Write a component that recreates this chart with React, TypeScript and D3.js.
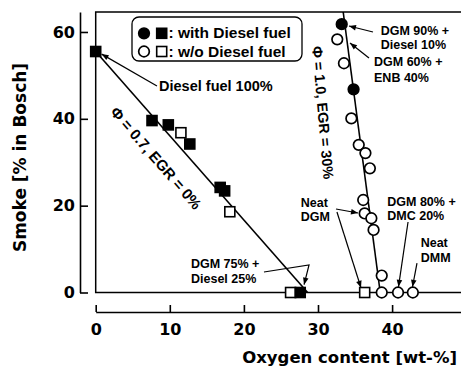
import React, { useRef, useEffect } from "react";
import * as d3 from "d3";

// [oxygen wt-%, smoke % Bosch]
const filledSquares = [[0, 55.5], [7.6, 39.6], [9.8, 38.6], [12.7, 34.2], [16.8, 24.2], [17.4, 23.4], [27.6, 0]];
const openSquares = [[11.5, 36.8], [18.1, 18.6], [26.3, 0], [36.3, 0]];
const filledCircles = [[33.2, 61.8], [34.8, 46.8]];
const openCircles = [
  [32.6, 58.3], [33.5, 52.8], [34.5, 40.1], [35.5, 34.0], [36.4, 32.1], [37.0, 28.6],
  [36.1, 21.3], [36.3, 18.2], [37.2, 17.1], [37.5, 14.4], [38.6, 3.9], [38.6, 0], [40.8, 0], [42.8, 0],
];
const lowPhiLine = [[0, 55.5], [28.6, 0]];
const highPhiLine = [[33.4, 64.6], [38.4, 0]];

const xTicks = [0, 10, 20, 30, 40];
const yTicks = [0, 20, 40, 60];

const annotations = [
  { lines: ["Diesel fuel 100%"], at: [8.55, 46.5], lh: 0, size: 14.5 },
  { lines: ["DGM 90% +", "Diesel 10%"], at: [38.46, 59.4], lh: 14, size: 12.5 },
  { lines: ["DGM 60% +", "ENB 40%"], at: [37.56, 52.05], lh: 16, size: 12.5 },
  { lines: ["Neat", "DGM"], at: [27.67, 19.7], lh: 14, size: 12.5 },
  { lines: ["DGM 80% +", "DMC 20%"], at: [39.35, 20.0], lh: 14, size: 12.5 },
  { lines: ["Neat", "DMM"], at: [43.86, 10.4], lh: 14.5, size: 12.5 },
  { lines: ["DGM 75% +", "Diesel 25%"], at: [12.86, 5.6], lh: 14.5, size: 12.5 },
];

// arrows: polyline points, head at last point
const arrows = [
  [[8.27, 47.56], [0.8, 54.9]],
  [[37.42, 59.99], [34.18, 61.38]],
  [[36.88, 54.0], [34.32, 57.46]],
  [[32.43, 19.23], [35.4, 18.31]],
  [[32.56, 18.54], [35.8, 1.1]],
  [[42.15, 16.24], [40.86, 1.3]],
  [[43.36, 6.79], [42.75, 1.3]],
  [[22.71, 4.72], [28.79, 6.33], [28.12, 1.8]],
];

const labelFont = "'Liberation Sans', Arial, Helvetica, sans-serif";
const axisFont = "'DejaVu Sans', Verdana, sans-serif";

const App = () => {
  const svgRef = useRef(null);

  useEffect(() => {
    const svg = d3.select(svgRef.current);
    svg.selectAll("*").remove();

    const x = d3.scaleLinear().domain([0, 50]).range([95.7, 466.2]);
    const y = d3.scaleLinear().domain([0, 64.6]).range([292.5, 12]);

    svg.append("rect").attr("width", 461).attr("height", 366).attr("fill", "#fff");

    svg.append("defs").append("marker")
      .attr("id", "arrow")
      .attr("viewBox", "0 0 10 10")
      .attr("refX", 10).attr("refY", 5)
      .attr("markerUnits", "userSpaceOnUse")
      .attr("markerWidth", 8).attr("markerHeight", 7)
      .attr("orient", "auto")
      .append("path").attr("d", "M0,1 L10,5 L0,9 z").attr("fill", "#000");

    // plot frame
    svg.append("rect")
      .attr("x", x(0)).attr("y", y(64.6))
      .attr("width", x(50) - x(0)).attr("height", y(0) - y(64.6))
      .attr("fill", "none").attr("stroke", "#000").attr("stroke-width", 1.5);

    /*** axes ***/
    const yAxis = svg.append("g")
      .attr("transform", "translate(80,0)")
      .call(d3.axisLeft(y).tickValues(yTicks).tickSizeInner(-8).tickSizeOuter(0).tickPadding(5));
    const xAxis = svg.append("g")
      .attr("transform", "translate(0,312)")
      .call(d3.axisBottom(x).tickValues(xTicks).tickSizeInner(-7).tickSizeOuter(0).tickPadding(11.5));
    [yAxis, xAxis].forEach(g => {
      g.selectAll("path, line").attr("stroke", "#000").attr("stroke-width", 1.6);
      g.selectAll("text")
        .attr("fill", "#000")
        .style("font-family", axisFont)
        .style("font-weight", "bold")
        .style("font-size", "16px");
    });

    svg.append("text")
      .attr("x", 457).attr("y", 363)
      .attr("text-anchor", "end")
      .style("font-family", axisFont).style("font-weight", "bold").style("font-size", "16.5px")
      .text("Oxygen content [wt-%]");
    svg.append("text")
      .attr("transform", "translate(25.5,157.5) rotate(-90)")
      .attr("text-anchor", "middle")
      .style("font-family", axisFont).style("font-weight", "bold").style("font-size", "17px")
      .text("Smoke [% in Bosch]");

    /*** fitted lines ***/
    const line = d3.line().x(d => x(d[0])).y(d => y(d[1]));
    [lowPhiLine, highPhiLine].forEach(pts => {
      svg.append("path").attr("d", line(pts))
        .attr("fill", "none").attr("stroke", "#000").attr("stroke-width", 1.6);
    });

    /*** arrows ***/
    arrows.forEach(pts => {
      svg.append("path").attr("d", line(pts))
        .attr("fill", "none").attr("stroke", "#000").attr("stroke-width", 1.2)
        .attr("marker-end", "url(#arrow)");
    });

    /*** markers ***/
    const sq = 10;
    const drawSquares = (data, fill) => svg.append("g").selectAll("rect")
      .data(data).enter().append("rect")
      .attr("x", d => x(d[0]) - sq / 2).attr("y", d => y(d[1]) - sq / 2)
      .attr("width", sq).attr("height", sq)
      .attr("fill", fill).attr("stroke", "#000").attr("stroke-width", 1.6);
    const drawCircles = (data, fill) => svg.append("g").selectAll("circle")
      .data(data).enter().append("circle")
      .attr("cx", d => x(d[0])).attr("cy", d => y(d[1])).attr("r", 5.3)
      .attr("fill", fill).attr("stroke", "#000").attr("stroke-width", 1.7);
    drawSquares(openSquares, "#fff");
    drawSquares(filledSquares, "#000");
    drawCircles(openCircles, "#fff");
    drawCircles(filledCircles, "#000");

    /*** rotated line labels ***/
    svg.append("text")
      .attr("transform", "translate(152,161.5) rotate(49)")
      .attr("text-anchor", "middle")
      .style("font-family", labelFont).style("font-weight", "bold").style("font-size", "15px")
      .text("\u03A6 = 0.7, EGR = 0%");
    svg.append("text")
      .attr("transform", "translate(317.8,113) rotate(85)")
      .attr("text-anchor", "middle")
      .style("font-family", labelFont).style("font-weight", "bold").style("font-size", "14.5px")
      .text("\u03A6 = 1.0, EGR = 30%");

    /*** annotations ***/
    annotations.forEach(a => {
      const t = svg.append("text")
        .attr("x", x(a.at[0])).attr("y", y(a.at[1]))
        .style("font-family", labelFont).style("font-weight", "bold").style("font-size", `${a.size}px`);
      a.lines.forEach((l, i) => {
        t.append("tspan").attr("x", x(a.at[0])).attr("dy", i === 0 ? 0 : a.lh).text(l);
      });
    });

    /*** legend ***/
    const leg = svg.append("g");
    leg.append("rect")
      .attr("x", 132).attr("y", 17).attr("width", 170).attr("height", 44).attr("rx", 7)
      .attr("fill", "#fff").attr("stroke", "#000").attr("stroke-width", 1.3);
    [{ fill: "#000", cy: 33.3, label: ": with Diesel fuel" }, { fill: "#fff", cy: 51.5, label: ": w/o Diesel fuel" }]
      .forEach(r => {
        leg.append("circle").attr("cx", 144).attr("cy", r.cy).attr("r", 5.3)
          .attr("fill", r.fill).attr("stroke", "#000").attr("stroke-width", 1.7);
        leg.append("rect").attr("x", 161.7 - sq / 2).attr("y", r.cy - sq / 2).attr("width", sq).attr("height", sq)
          .attr("fill", r.fill).attr("stroke", "#000").attr("stroke-width", 1.6);
        leg.append("text").attr("x", 168.5).attr("y", r.cy + 5)
          .style("font-family", labelFont).style("font-weight", "bold").style("font-size", "15.5px")
          .text(r.label);
      });
  }, []);

  return (
    <svg ref={svgRef} width={461} height={366} style={{ position: "absolute", left: 0, top: 0 }}></svg>
  );
};

export default App;
